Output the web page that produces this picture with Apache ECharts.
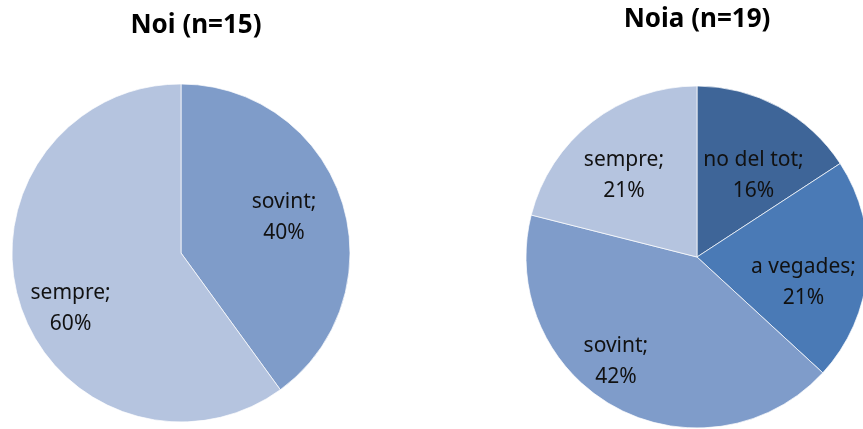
<!DOCTYPE html>
<html>
<head>
<meta charset="utf-8">
<script src="https://cdn.jsdelivr.net/npm/echarts@6/dist/echarts.min.js"></script>
<style>
    html, body { margin: 0; padding: 0; background: #fff; }
    #chart { width: 863px; height: 429px; }
</style>
</head>
<body>
<div id="chart"></div>
<script>
// data
const boyTitle = 'Noi (n=15)';
const boyCategories = ['sovint', 'sempre'];
const boyValues = [6, 9];

const girlTitle = 'Noia (n=19)';
const girlCategories = ['no del tot', 'a vegades', 'sovint', 'sempre'];
const girlValues = [3, 4, 8, 4];

// styling / layout
const boyColors = ['#7f9cc9', '#b5c4df'];
const girlColors = ['#3e6598', '#4a7ab6', '#7f9cca', '#b5c4df'];
const boyCenter = [181, 253];
const girlCenter = [697, 257];
const boyRadius = 169;
const girlRadius = 171;
// label placement like excel's best fit: fraction of radius + angle nudge (deg)
const boyLabelPos = [0.645, 0.73];
const boyLabelTurn = [-1, -8.5];
const girlLabelPos = [0.58, 0.64, 0.775, 0.64];
const girlLabelTurn = [6.3, 8.6, 9.3, -4];

const chart = echarts.init(document.getElementById('chart'));

function placeLabels(values, center, radius, fracs, turns) {
    const total = values.reduce((a, b) => a + b, 0);
    return function (params) {
        const i = params.dataIndex;
        let cum = 0;
        for (let k = 0; k < i; k++) cum += values[k];
        const mid = (cum + values[i] / 2) / total * Math.PI * 2 + turns[i] * Math.PI / 180;
        const d = radius * fracs[i];
        return {
            x: center[0] + Math.sin(mid) * d,
            y: center[1] - Math.cos(mid) * d,
            align: 'center',
            verticalAlign: 'middle'
        };
    };
}

function pieSeries(names, values, colors, center, radius, fracs, turns) {
    return {
        type: 'pie',
        center: center,
        radius: radius,
        startAngle: 90,
        clockwise: true,
        percentPrecision: 0,
        avoidLabelOverlap: false,
        silent: true,
        data: names.map((n, i) => ({
            name: n,
            value: values[i],
            itemStyle: { color: colors[i] }
        })),
        itemStyle: {
            borderColor: 'rgba(255,255,255,0.7)',
            borderWidth: 1
        },
        label: {
            show: true,
            position: 'inside',
            formatter: '{b};\n{d}%',
            color: '#111',
            fontFamily: 'Noto Sans',
            fontSize: 21,
            lineHeight: 31
        },
        labelLine: { show: false },
        labelLayout: placeLabels(values, center, radius, fracs, turns)
    };
}

chart.setOption({
    animation: false,
    graphic: [
        {
            type: 'text',
            x: 196,
            y: 26,
            style: {
                text: boyTitle,
                font: 'bold 26px "Noto Sans"',
                fill: '#000',
                align: 'center',
                verticalAlign: 'middle'
            }
        },
        {
            type: 'text',
            x: 697,
            y: 20,
            style: {
                text: girlTitle,
                font: 'bold 26px "Noto Sans"',
                fill: '#000',
                align: 'center',
                verticalAlign: 'middle'
            }
        }
    ],
    series: [
        pieSeries(boyCategories, boyValues, boyColors, boyCenter, boyRadius, boyLabelPos, boyLabelTurn),
        pieSeries(girlCategories, girlValues, girlColors, girlCenter, girlRadius, girlLabelPos, girlLabelTurn)
    ]
});
</script>
</body>
</html>
